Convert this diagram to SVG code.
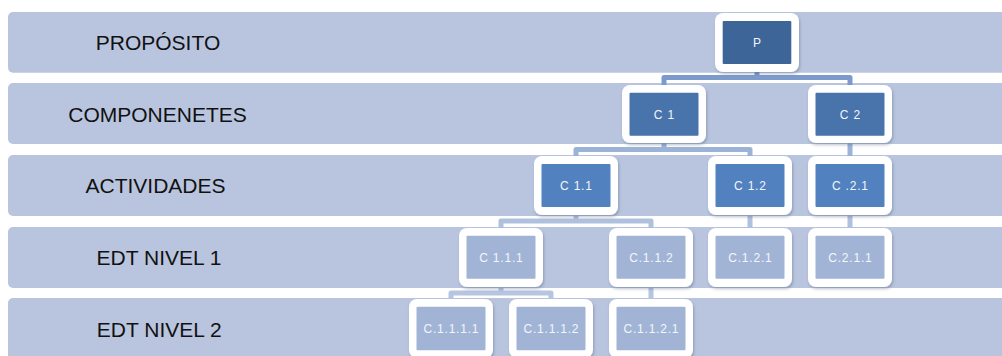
<svg xmlns="http://www.w3.org/2000/svg" width="1002" height="356" viewBox="0 0 1002 356">
<defs>
<filter id="sh" x="-20%" y="-20%" width="140%" height="150%">
<feDropShadow dx="1" dy="2" stdDeviation="1.5" flood-color="#3a4a66" flood-opacity="0.35"/>
</filter>
<style>
.band{fill:#b9c5df}
.blabel{font-family:"Liberation Sans",Arial,sans-serif;font-size:21px;fill:#111;text-anchor:middle}
.frame{fill:#ffffff;filter:url(#sh)}
.n1{fill:#3e6598}
.n2{fill:#4873ab}
.n3{fill:#5281bf}
.n4{fill:#a2b4d6}
.nl{font-family:"Liberation Sans",Arial,sans-serif;font-size:12px;fill:#f3f6fb;text-anchor:middle;letter-spacing:0.8px}
.c{fill:none;stroke-width:5;stroke-linejoin:round}
.c1{stroke:#7c9bcc}
.c2{stroke:#9cb3d8}
.c3{stroke:#b0c1e0}
.c4{stroke:#b5c5e2}
</style>
</defs>
<g id="bands">
<rect class="band" x="8" y="12" width="1010" height="60.7" rx="5"/>
<rect class="band" x="8" y="83" width="1010" height="61" rx="5"/>
<rect class="band" x="8" y="155" width="1010" height="61" rx="5"/>
<rect class="band" x="8" y="227" width="1010" height="61" rx="5"/>
<rect class="band" x="8" y="298" width="1010" height="70" rx="5"/>
<text class="blabel" x="158" y="49.5">PROPÓSITO</text>
<text class="blabel" x="157.5" y="121.5">COMPONENETES</text>
<text class="blabel" x="155.5" y="193">ACTIVIDADES</text>
<text class="blabel" x="159" y="265">EDT NIVEL 1</text>
<text class="blabel" x="159.3" y="336.5">EDT NIVEL 2</text>
</g>
<g id="connectors">
<path class="c c1" d="M757 70 V77.5 M664 88 V77.5 H850 V88"/>
<path class="c c2" d="M664 141 V149.5 M576 159 V149.5 H750 V159"/>
<path class="c c2" d="M850 141 V159"/>
<path class="c c3" d="M576 213 V221 M501 231 V221 H651 V231"/>
<path class="c c3" d="M750 213 V231"/>
<path class="c c3" d="M850 213 V231"/>
<path class="c c4" d="M501 285 V293 M451 302 V293 H551 V302"/>
<path class="c c4" d="M651 285 V302"/>
</g>
<g id="node-P">
<rect class="frame" x="715" y="13" width="84" height="59" rx="8"/>
<rect class="n1" x="722.7" y="21" width="68.6" height="43" rx="1"/>
<text class="nl" x="757.4" y="46.8">P</text>
</g>
<g id="node-C1">
<rect class="frame" x="622" y="85" width="84" height="58" rx="8"/>
<rect class="n2" x="629.5" y="92.7" width="69" height="43" rx="1"/>
<text class="nl" x="664.4" y="118.5">C 1</text>
</g>
<g id="node-C2">
<rect class="frame" x="808" y="85" width="84" height="58" rx="8"/>
<rect class="n2" x="815.5" y="92.7" width="69" height="43" rx="1"/>
<text class="nl" x="850.4" y="118.5">C 2</text>
</g>
<g id="node-C1.1">
<rect class="frame" x="534" y="156" width="84" height="59" rx="8"/>
<rect class="n3" x="541.5" y="164" width="69" height="43" rx="1"/>
<text class="nl" x="576.4" y="190">C 1.1</text>
</g>
<g id="node-C1.2">
<rect class="frame" x="708" y="156" width="84" height="59" rx="8"/>
<rect class="n3" x="715.5" y="164" width="69" height="43" rx="1"/>
<text class="nl" x="750.4" y="190">C 1.2</text>
</g>
<g id="node-C.2.1">
<rect class="frame" x="808" y="156" width="84" height="59" rx="8"/>
<rect class="n3" x="815.5" y="164" width="69" height="43" rx="1"/>
<text class="nl" x="850.4" y="190">C .2.1</text>
</g>
<g id="node-C1.1.1">
<rect class="frame" x="459" y="228" width="84" height="59" rx="8"/>
<rect class="n4" x="466.5" y="235.7" width="69" height="43" rx="1"/>
<text class="nl" x="501.4" y="261.5">C 1.1.1</text>
</g>
<g id="node-C.1.1.2">
<rect class="frame" x="609" y="228" width="84" height="59" rx="8"/>
<rect class="n4" x="616.5" y="235.7" width="69" height="43" rx="1"/>
<text class="nl" x="651.4" y="261.5">C.1.1.2</text>
</g>
<g id="node-C.1.2.1">
<rect class="frame" x="708" y="228" width="84" height="59" rx="8"/>
<rect class="n4" x="715.5" y="235.7" width="69" height="43" rx="1"/>
<text class="nl" x="750.4" y="261.5">C.1.2.1</text>
</g>
<g id="node-C.2.1.1">
<rect class="frame" x="808" y="228" width="84" height="59" rx="8"/>
<rect class="n4" x="815.5" y="235.7" width="69" height="43" rx="1"/>
<text class="nl" x="850.4" y="261.5">C.2.1.1</text>
</g>
<g id="node-C.1.1.1.1">
<rect class="frame" x="409" y="299" width="84" height="59" rx="8"/>
<rect class="n4" x="416.5" y="306.7" width="69" height="43.5" rx="1"/>
<text class="nl" x="451.4" y="333">C.1.1.1.1</text>
</g>
<g id="node-C.1.1.1.2">
<rect class="frame" x="509" y="299" width="84" height="59" rx="8"/>
<rect class="n4" x="516.5" y="306.7" width="69" height="43.5" rx="1"/>
<text class="nl" x="551.4" y="333">C.1.1.1.2</text>
</g>
<g id="node-C.1.1.2.1">
<rect class="frame" x="609" y="299" width="84" height="59" rx="8"/>
<rect class="n4" x="616.5" y="306.7" width="69" height="43.5" rx="1"/>
<text class="nl" x="651.4" y="333">C.1.1.2.1</text>
</g>
</svg>
